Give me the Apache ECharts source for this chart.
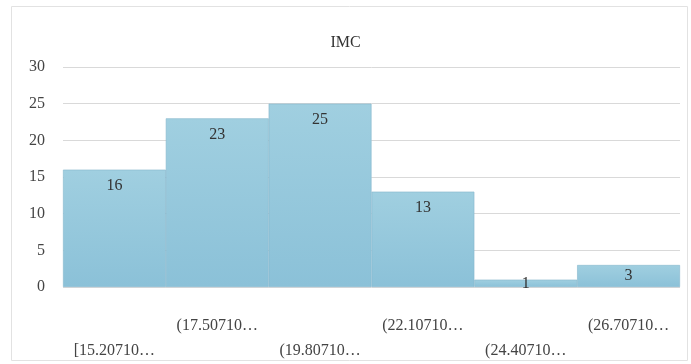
<!DOCTYPE html>
<html>
<head>
<meta charset="utf-8">
<script src="https://cdn.jsdelivr.net/npm/echarts@6/dist/echarts.min.js"></script>
<style>
  html, body { margin: 0; padding: 0; background: #fff; }
  #main { width: 691px; height: 364px; }
</style>
</head>
<body>
<div id="main"></div>
<script>
// histogram bins and counts
var categories = ['[15.20710…', '(17.50710…', '(19.80710…', '(22.10710…', '(24.40710…', '(26.70710…'];
var counts = [16, 23, 25, 13, 1, 3];
var yTicks = [0, 5, 10, 15, 20, 25, 30];

var chart = echarts.init(document.getElementById('main'));
var serif = '"Liberation Serif", "DejaVu Serif", serif';

var option = {
  animation: false,
  backgroundColor: '#fff',
  title: {
    text: 'IMC',
    left: 'center',
    top: 30,
    textStyle: { fontFamily: serif, fontSize: 16, fontWeight: 'normal', color: '#333' }
  },
  graphic: [{
    type: 'rect',
    shape: { x: 11.5, y: 6.5, width: 676, height: 354 },
    style: { fill: 'none', stroke: '#e2e2e2', lineWidth: 1 },
    silent: true
  }],
  grid: { left: 63, right: 11, top: 67, bottom: 77 },
  xAxis: {
    type: 'category',
    data: categories,
    axisTick: { show: false },
    axisLine: { show: false },
    axisLabel: {
      interval: 0,
      margin: 26,
      fontFamily: serif,
      fontSize: 16,
      color: '#444',
      lineHeight: 25,
      formatter: function (v, i) { return i % 2 === 0 ? '\n' + v : v; }
    }
  },
  yAxis: {
    type: 'value',
    min: yTicks[0],
    max: yTicks[yTicks.length - 1],
    interval: 5,
    axisLine: { show: false },
    axisTick: { show: false },
    axisLabel: { fontFamily: serif, fontSize: 16, color: '#444', margin: 18 },
    splitLine: { lineStyle: { color: '#d9d9d9', width: 1 } }
  },
  series: [{
    type: 'bar',
    data: counts.map(function (v) {
      // short bars get the label centred on the bar, as in the source
      return v < 5 ? { value: v, label: { position: 'inside' } } : v;
    }),
    barWidth: '100%',
    barCategoryGap: 0,
    itemStyle: {
      color: new echarts.graphic.LinearGradient(0, 0, 0, 1, [
        { offset: 0, color: '#a0cfe0' },
        { offset: 1, color: '#8bc1d8' }
      ]),
      borderColor: '#84b7cd',
      borderWidth: 0.6
    },
    label: {
      show: true,
      position: 'insideTop',
      distance: 8,
      fontFamily: serif,
      fontSize: 16,
      color: '#333'
    }
  }]
};

chart.setOption(option);
</script>
</body>
</html>
